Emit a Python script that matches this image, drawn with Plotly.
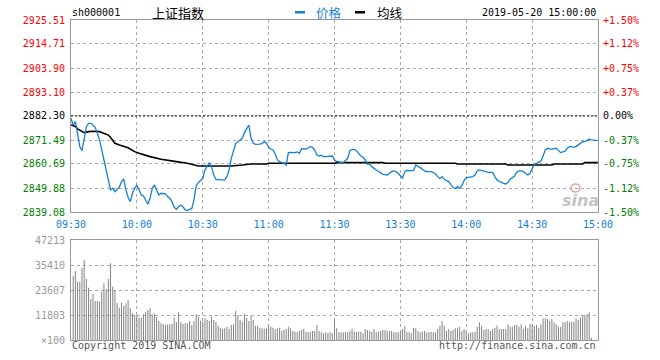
import plotly.graph_objects as go

# ---------------- data ----------------
prev_close = 2882.30

# minute-by-minute index price, 09:30 (minute 0) .. 15:00 (minute 240)
price = [
    2881.25, 2878.25, 2879.75, 2874.5, 2868.5, 2866.7, 2871.5, 2877.5, 2879.0, 2879.0,
    2878.25, 2877.2, 2874.5, 2871.5, 2867.0, 2862.5, 2858.0, 2852.75, 2849.0, 2849.75,
    2848.25, 2849.3, 2850.2, 2852.75, 2853.95, 2849.0, 2845.7, 2843.75, 2847.5, 2849.75,
    2851.1, 2849.0, 2846.75, 2846.3, 2844.5, 2842.55, 2845.25, 2849.75, 2851.25, 2849.0,
    2846.75, 2847.5, 2847.5, 2847.2, 2846.0, 2845.25, 2843.75, 2841.2, 2840.3, 2841.5,
    2842.1, 2841.5, 2840.0, 2839.7, 2840.3, 2840.6, 2844.5, 2850.8, 2852.3, 2853.2,
    2854.25, 2858.0, 2859.5, 2861.3, 2859.5, 2855.75, 2853.8, 2853.5, 2853.5, 2853.5,
    2853.5, 2855.0, 2858.0, 2863.25, 2867.0, 2870.0, 2870.75, 2871.5, 2872.25, 2874.8,
    2876.75, 2878.25, 2872.25, 2870.0, 2869.5, 2869.5, 2869.6, 2870.0, 2870.75, 2870.0,
    2868.2, 2867.45, 2867.0, 2865.2, 2862.5, 2861.75, 2861.45, 2861.0, 2860.25, 2865.8,
    2865.95, 2865.8, 2865.8, 2866.1, 2865.5, 2867.6, 2867.6, 2867.45, 2867.9, 2868.5,
    2868.2, 2867.0, 2864.75, 2864.3, 2864.6, 2864.0, 2864.0, 2864.0, 2864.0, 2864.3,
    2862.5, 2861.75, 2861.75, 2861.3, 2861.3, 2862.2, 2863.25, 2866.7, 2867.3, 2867.3,
    2866.7, 2865.5, 2864.3, 2863.7, 2862.5, 2860.55, 2860.55, 2859.5, 2858.6, 2858.0,
    2857.4, 2856.8, 2856.05, 2855.9, 2855.75, 2856.5, 2857.25, 2857.55, 2857.25, 2856.5,
    2855.6, 2854.25, 2857.25, 2857.85, 2857.7, 2857.7, 2857.7, 2860.25, 2859.8, 2859.05,
    2858.3, 2857.55, 2857.25, 2857.4, 2857.25, 2856.95, 2856.2, 2855.0, 2854.1, 2855.0,
    2853.8, 2853.2, 2852.75, 2851.4, 2850.2, 2849.6, 2850.5, 2849.75, 2850.8, 2853.2,
    2854.55, 2854.7, 2854.7, 2855.0, 2855.75, 2857.55, 2858.0, 2857.85, 2857.7, 2857.25,
    2856.95, 2856.95, 2856.95, 2855.0, 2853.5, 2852.9, 2852.3, 2852.0, 2851.7, 2852.3,
    2853.8, 2854.7, 2855.3, 2856.95, 2857.55, 2857.55, 2857.25, 2856.5, 2855.75, 2856.5,
    2858.75, 2860.55, 2861.0, 2861.45, 2862.05, 2864.3, 2867.0, 2867.75, 2867.6, 2867.3,
    2867.6, 2867.75, 2866.7, 2865.8, 2866.1, 2866.4, 2867.75, 2868.5, 2868.5, 2868.2,
    2868.5, 2869.25, 2870.3, 2870.75, 2870.75, 2871.2, 2871.8, 2871.5, 2871.5, 2871.5,
    2871.2,
]

# average-price line (均线), sampled minutes and values
avg_minutes = [0, 2, 3, 6, 8, 10, 13, 15, 17, 18, 20, 22, 26, 29, 31, 36, 41, 48, 53, 58,
               73, 78, 82, 89, 90, 120, 121, 142, 143, 175, 176, 198, 199, 219, 220, 233, 234, 240]
avg_values = [2878.25, 2877.6, 2876.5, 2874.8, 2875.25, 2875.4, 2875.25, 2874.5, 2873.7, 2872.6,
              2870.0, 2869.25, 2868.0, 2866.25, 2865.5, 2864.0, 2862.8, 2861.75, 2861.0, 2859.8,
              2859.8, 2860.25, 2860.7, 2860.7, 2861.0, 2861.0, 2861.3, 2861.3, 2861.0, 2861.0,
              2860.7, 2860.7, 2860.25, 2860.25, 2860.7, 2860.7, 2861.3, 2861.3]

# per-minute volume (x100 shares), minutes 1 .. 237
volume = [
    30380, 32580, 27550, 27550, 34160, 37780, 28800, 24710, 19360, 21720,
    18420, 18420, 18100, 22820, 26760, 24080, 28800, 36200, 25180, 23450,
    17470, 15270, 17790, 16210, 17310, 18890, 14950, 12590, 11800, 11800,
    10550, 10550, 12120, 13060, 14170, 14950, 12120, 12590, 11020, 8970,
    7870, 7400, 7080, 7400, 7400, 7710, 10550, 8340, 13060, 8340,
    7560, 7870, 7870, 8970, 7080, 8970, 12120, 11020, 8970, 8660,
    10230, 9440, 8970, 11020, 9440, 8660, 6770, 5820, 5190, 5510,
    6300, 5190, 7080, 7400, 13690, 11800, 9440, 8660, 12120, 10550,
    8970, 11490, 9440, 6770, 6770, 5820, 5510, 5190, 5510, 7080,
    6300, 5820, 5190, 5510, 5820, 4250, 4720, 5190, 6300, 5510,
    4250, 3940, 3620, 4250, 4720, 5190, 3940, 3620, 3940, 4250,
    4250, 7080, 4250, 3620, 3150, 3620, 3150, 3620, 3150, 9440,
    5510, 3620, 3620, 3620, 3940, 3620, 4250, 5190, 3940, 3940,
    3940, 3940, 3150, 5190, 4720, 4250, 3940, 5190, 3620, 3940,
    4250, 4720, 4720, 4250, 4250, 4250, 3620, 3620, 3620, 4250,
    5190, 6610, 3940, 3620, 3150, 5820, 5510, 4250, 3620, 3940,
    4250, 3620, 3620, 3940, 3620, 3620, 5190, 6770, 8970, 6770,
    4250, 5190, 4250, 4720, 5510, 5820, 6300, 4250, 5190, 4250,
    3150, 3620, 3620, 3940, 6300, 8340, 6770, 4720, 5190, 5190,
    4250, 5190, 5820, 6770, 5190, 5190, 5190, 5190, 7400, 6300,
    6300, 7080, 7080, 6300, 7400, 5190, 6770, 5510, 7400, 7400,
    6770, 7080, 5820, 7400, 10230, 10230, 9920, 8970, 9920, 8340,
    7400, 6300, 6300, 8340, 8340, 8970, 8340, 8660, 8660, 10230,
    9440, 10550, 11490, 11800, 12120, 13060, 1100,
]

time_labels = ["09:30", "10:00", "10:30", "11:00", "11:30", "13:30", "14:00", "14:30", "15:00"]
time_minutes = [0, 30, 60, 90, 120, 150, 180, 210, 240]
price_ticks = [2839.08, 2849.88, 2860.69, 2871.49, 2882.30, 2893.10, 2903.90, 2914.71, 2925.51]
pct_labels = ["-1.50%", "-1.12%", "-0.75%", "-0.37%", "0.00%", "+0.37%", "+0.75%", "+1.12%", "+1.50%"]
vol_ticks = [0, 11803, 23607, 35410, 47213]
vol_labels = ["×100", "11803", "23607", "35410", "47213"]

# ---------------- styling ----------------
BLUE = "#1580d2"
RED = "#ff0000"
GREEN = "#008000"
GRID = "#aaaaaa"
FRAME = "#999999"
MONO = "DejaVu Sans Mono, Liberation Mono, monospace"
CJK = "Noto Sans CJK SC, sans-serif"

W, H = 660, 360
ML, MR, MT, MB = 71, 62, 20, 20
PW, PH = W - ML - MR, H - MT - MB


def px(xp):
    return (xp - ML) / PW


def py(yp):
    return (H - MB - yp) / PH


def col(v):
    if abs(v - prev_close) < 1e-6:
        return "#000000"
    return RED if v > prev_close else GREEN


left_text = [f'<span style="color:{col(v)}">{v:.2f}</span>' for v in price_ticks]
right_text = [f'<span style="color:{col(v)}">{t}</span>' for v, t in zip(price_ticks, pct_labels)]

fig = go.Figure()
fig.add_trace(go.Bar(x=list(range(1, len(volume) + 1)), y=volume, xaxis="x2", yaxis="y3",
                     marker=dict(color="#868686", line=dict(width=0)), width=0.47,
                     hoverinfo="skip"))
fig.add_trace(go.Scatter(x=avg_minutes, y=avg_values, mode="lines", xaxis="x", yaxis="y",
                         line=dict(color="#000000", width=1.6), hoverinfo="skip"))
fig.add_trace(go.Scatter(x=list(range(len(price))), y=price, mode="lines", xaxis="x", yaxis="y",
                         line=dict(color=BLUE, width=1.3), hoverinfo="skip"))
fig.add_trace(go.Scatter(x=[0], y=[prev_close], mode="markers", xaxis="x", yaxis="y2",
                         marker=dict(opacity=0), hoverinfo="skip"))

common_x = dict(range=[0, 240], tickvals=time_minutes, showgrid=True, gridcolor=GRID,
                griddash="dot", gridwidth=1, showline=True, linecolor=FRAME, linewidth=1,
                mirror=True, zeroline=False, fixedrange=True)
fig.update_layout(
    width=W, height=H, margin=dict(l=ML, r=MR, t=MT, b=MB),
    paper_bgcolor="white", plot_bgcolor="white", showlegend=False,
    xaxis=dict(**common_x, domain=[0, 1], anchor="y", ticktext=time_labels,
               tickfont=dict(family=MONO, size=10, color=BLUE),
               ticks="outside", ticklen=3, tickcolor="rgba(0,0,0,0)"),
    yaxis=dict(domain=[py(212), 1], range=[price_ticks[0], price_ticks[-1]], anchor="x",
               tickvals=price_ticks, ticktext=left_text, tickfont=dict(family=MONO, size=10),
               showgrid=True, gridcolor=GRID, griddash="dot", showline=True, linecolor=FRAME,
               mirror=True, zeroline=False, ticks="outside", ticklen=3,
               tickcolor="rgba(0,0,0,0)", fixedrange=True),
    yaxis2=dict(overlaying="y", side="right", anchor="x", range=[price_ticks[0], price_ticks[-1]],
                tickvals=price_ticks, ticktext=right_text, tickfont=dict(family=MONO, size=10),
                showgrid=False, zeroline=False, showline=False, ticks="outside", ticklen=2,
                tickcolor="rgba(0,0,0,0)", fixedrange=True),
    xaxis2=dict(**common_x, domain=[0, 1], anchor="y3", showticklabels=False),
    yaxis3=dict(domain=[0, py(240)], range=[0, vol_ticks[-1]], anchor="x2", tickvals=vol_ticks,
                ticktext=vol_labels, tickfont=dict(family=MONO, size=10, color="#999999"),
                showgrid=True, gridcolor=GRID, griddash="dot", showline=True, linecolor=FRAME,
                mirror=True, zeroline=False, ticks="outside", ticklen=3,
                tickcolor="rgba(0,0,0,0)", fixedrange=True),
)

# previous close dashed line
fig.add_shape(type="line", xref="x", yref="y", x0=0, x1=240, y0=prev_close, y1=prev_close,
              line=dict(color="#000000", width=1, dash="2px,2px"))

# header: legend markers
fig.add_shape(type="rect", xref="paper", yref="paper", x0=px(295), x1=px(305), y0=py(13.5), y1=py(11),
              fillcolor=BLUE, line=dict(width=0))
fig.add_shape(type="rect", xref="paper", yref="paper", x0=px(355), x1=px(365), y0=py(13.5), y1=py(11),
              fillcolor="#000000", line=dict(width=0))

ann = [
    dict(text="sh000001", x=px(70), y=py(13), xanchor="left", font=dict(family=MONO, size=10, color="#000")),
    dict(text="上证指数", x=px(150), y=py(13), xanchor="left", font=dict(family=CJK, size=13, color="#000")),
    dict(text="价格", x=px(314), y=py(13), xanchor="left", font=dict(family=CJK, size=12.5, color=BLUE)),
    dict(text="均线", x=px(375), y=py(13), xanchor="left", font=dict(family=CJK, size=12.5, color="#000")),
    dict(text="2019-05-20 15:00:00", x=px(598), y=py(13), xanchor="right", font=dict(family=MONO, size=10, color="#000")),
    dict(text="Copyright 2019 SINA.COM", x=px(70), y=py(345.5), xanchor="left", font=dict(family=MONO, size=10, color="#555")),
    dict(text="http://finance.sina.com.cn", x=px(598), y=py(345.5), xanchor="right", font=dict(family=MONO, size=10, color="#555")),
    dict(text="<b><i>sina</i></b>", x=px(580), y=py(200), xanchor="center", font=dict(family="DejaVu Sans", size=16, color="#c4c4c4")),
]
for a in ann:
    a.update(xref="paper", yref="paper", yanchor="middle", showarrow=False)
    fig.add_annotation(**a)

# watermark eye
fig.add_shape(type="circle", xref="paper", yref="paper", x0=px(571), x1=px(580), y0=py(192), y1=py(184),
              line=dict(color="#f0a0a0", width=1.5), fillcolor="rgba(0,0,0,0)")

fig.write_html("out.html", config={"displayModeBar": False, "staticPlot": True},
               post_script="document.body.style.margin='0px';document.body.style.overflow='hidden';")
